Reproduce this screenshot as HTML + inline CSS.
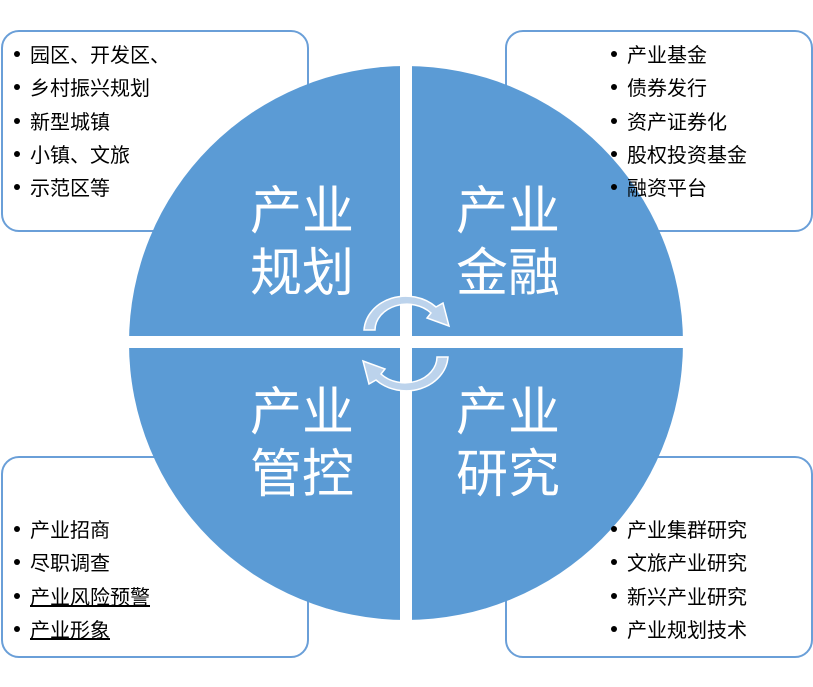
<!DOCTYPE html>
<html><head><meta charset="utf-8"><style>
body{margin:0;width:813px;height:687px;background:#fff;position:relative;overflow:hidden;font-family:"Liberation Sans","Noto Sans CJK SC",sans-serif;}
.box{position:absolute;width:304px;height:198px;border:2px solid #6a9fd8;border-radius:18px;background:#fff;}
.list{position:absolute;font-size:20px;line-height:33px;height:33px;color:#000;z-index:3;}
.list div{height:33.3px;}
.list div:before{content:"";display:inline-block;width:6px;height:6px;border-radius:3px;background:#000;margin:0 10px 0 0;vertical-align:5px;}
.big{position:absolute;color:#fff;font-size:52px;line-height:62px;z-index:3;}
svg{position:absolute;left:0;top:0;z-index:2;}
</style></head><body>
<div class="box" style="left:1px;top:30px"></div>
<div class="box" style="left:505px;top:30px"></div>
<div class="box" style="left:1px;top:456px"></div>
<div class="box" style="left:505px;top:456px"></div>
<svg width="813" height="687">
<circle cx="406" cy="343" r="277" fill="#5b9bd5"/>
<rect x="400" y="60" width="12" height="570" fill="#fff"/>
<rect x="120" y="336" width="580" height="12" fill="#fff"/>
<g fill="#bcd3ec" stroke="#fff" stroke-width="1.5">
<path d="M364,330 A42,36 0 0 1 436,307 L443,303 L449,326 L427,318 L431,313 A32,26 0 0 0 375,330 Z"/>
<path d="M448,357 A42,36 0 0 1 376,380 L369,384 L363,361 L385,369 L381,374 A32,26 0 0 0 437,357 Z"/>
</g>
</svg>
<div class="list" style="left:14px;top:40px"><div>园区、开发区、</div><div>乡村振兴规划</div><div>新型城镇</div><div>小镇、文旅</div><div>示范区等</div></div>
<div class="list" style="left:611px;top:40px"><div>产业基金</div><div>债券发行</div><div>资产证券化</div><div>股权投资基金</div><div>融资平台</div></div>
<div class="list" style="left:14px;top:515px"><div>产业招商</div><div>尽职调查</div><div><u>产业风险预警</u></div><div><u>产业形象</u></div></div>
<div class="list" style="left:611px;top:515px"><div>产业集群研究</div><div>文旅产业研究</div><div>新兴产业研究</div><div>产业规划技术</div></div>
<div class="big" style="left:250px;top:181px">产业<br>规划</div>
<div class="big" style="left:456px;top:181px">产业<br>金融</div>
<div class="big" style="left:250px;top:382px">产业<br>管控</div>
<div class="big" style="left:456px;top:382px">产业<br>研究</div>
</body></html>
